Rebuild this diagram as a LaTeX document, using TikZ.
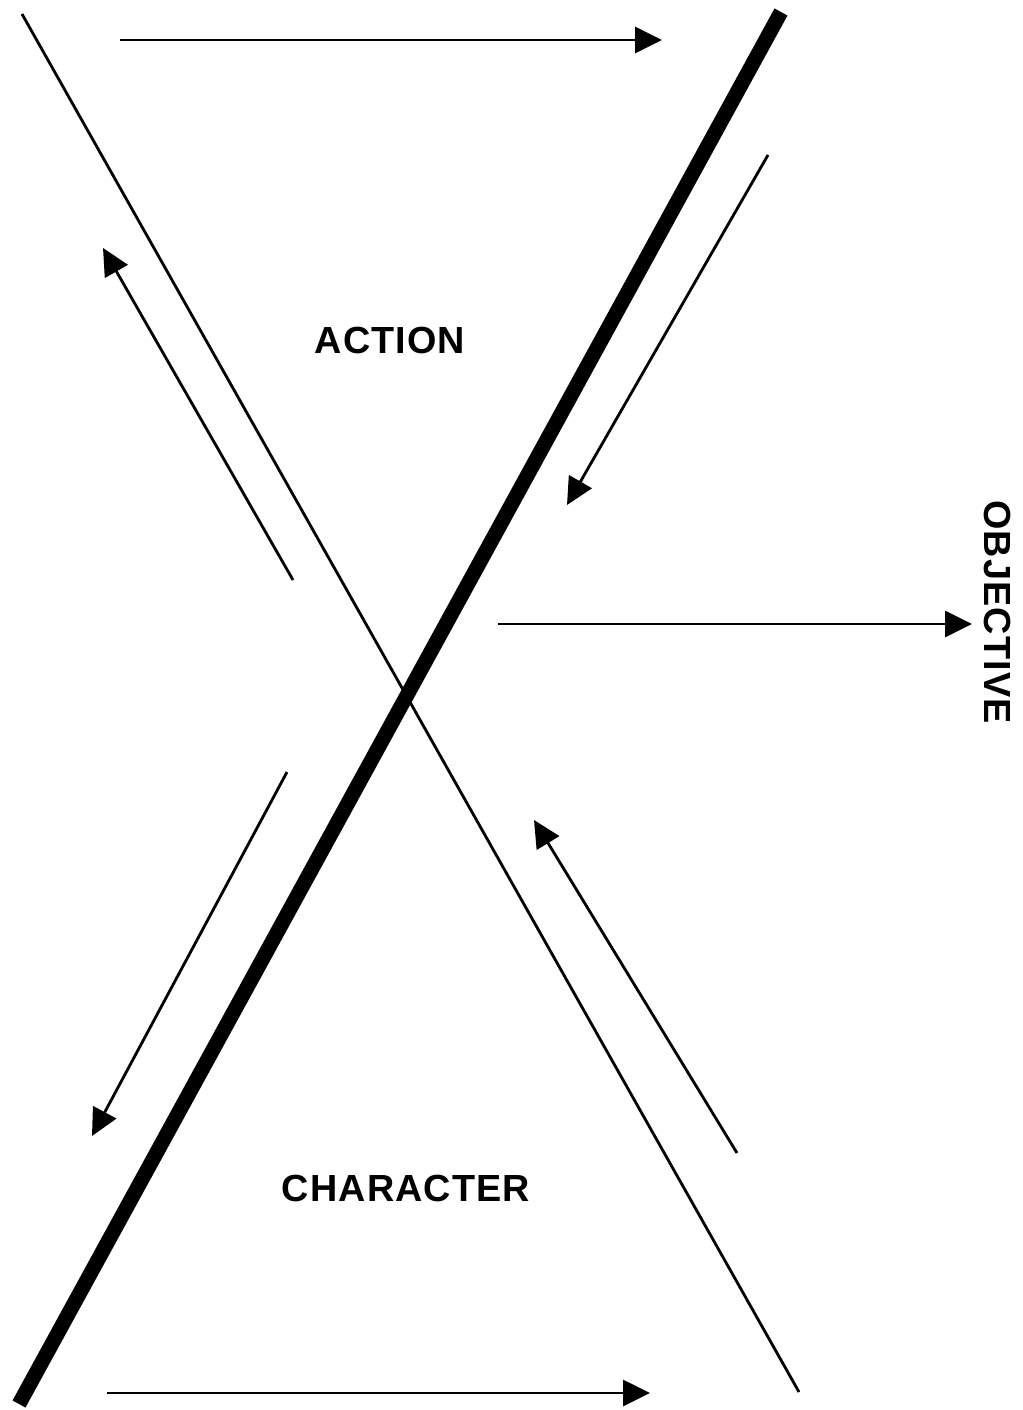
\documentclass[tikz,border=0pt]{standalone}
\usepackage{fontspec}
\setmainfont{Liberation Sans}
\newfontfamily\lblfont[LetterSpace=3]{Liberation Sans}
\usetikzlibrary{arrows.meta}
\begin{document}
\begin{tikzpicture}[x=0.02cm,y=-0.02cm,
  thinline/.style={line width=1.6pt},
  thickline/.style={line width=8.4pt},
  flow/.style={line width=1.6pt,-{Triangle[length=0.54cm,width=0.52cm]}},
  lbl/.style={font=\lblfont\fontsize{21.5}{24}\selectfont\bfseries, inner sep=0pt}]
\useasboundingbox (0,0) rectangle (1022,1410);
% main crossing lines
\coordinate (t1) at (22,14);
\coordinate (t2) at (799,1392);
\coordinate (k1) at (781,12);
\coordinate (k2) at (19,1404);
\draw[thinline] (t1) -- (t2);
\draw[thickline] (k1) -- (k2);
% arrows
\coordinate (a1s) at (120,40);   \coordinate (a1e) at (662,40);
\coordinate (a2s) at (768,155);  \coordinate (a2e) at (567,505);
\coordinate (a3s) at (293,580);  \coordinate (a3e) at (103,248);
\coordinate (a4s) at (498,624);  \coordinate (a4e) at (972,624);
\coordinate (a5s) at (287,772);  \coordinate (a5e) at (92,1136);
\coordinate (a6s) at (737,1153); \coordinate (a6e) at (534,820);
\coordinate (a7s) at (107,1393); \coordinate (a7e) at (650,1393);
\draw[flow] (a1s) -- (a1e);
\draw[flow] (a2s) -- (a2e);
\draw[flow] (a3s) -- (a3e);
\draw[flow] (a4s) -- (a4e);
\draw[flow] (a5s) -- (a5e);
\draw[flow] (a6s) -- (a6e);
\draw[flow] (a7s) -- (a7e);
% labels
\node[lbl] (action) at (390,340) {ACTION};
\node[lbl] (character) at (406,1188) {CHARACTER};
\node[lbl, rotate=-90] (objective) at (997,612) {OBJECTIVE};
\end{tikzpicture}
\end{document}
